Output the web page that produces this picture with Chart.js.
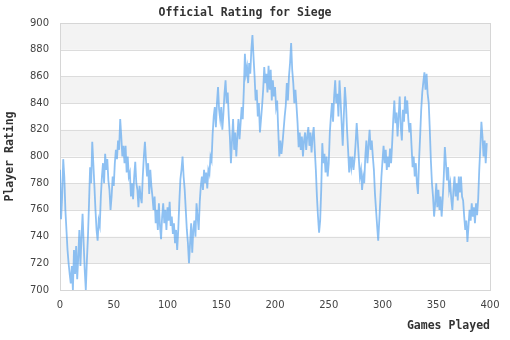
<!DOCTYPE html>
<html>
<head>
<meta charset="utf-8">
<script src="https://cdn.jsdelivr.net/npm/chart.js@4"></script>
<style>
  html, body { margin: 0; padding: 0; background: #fff; }
  #wrap { width: 510px; height: 340px; }
</style>
</head>
<body>
<div id="wrap"><canvas id="chart" width="510" height="340"></canvas></div>
<script>
// Rating after each game played (game 0 = first rated game)
const ratings = [
  790, 753, 770, 798, 785, 760, 745, 730, 720, 712,
  705, 718, 700, 730, 712, 733, 708, 725, 745, 718,
  740, 757, 735, 715, 700, 722, 740, 765, 792, 780,
  811, 795, 778, 760, 745, 737, 752, 748, 770, 785,
  795, 780, 802, 790, 798, 782, 775, 760, 770, 785,
  778, 795, 805, 798, 812, 805, 828, 815, 800, 808,
  795, 808, 788, 800, 785, 788, 770, 780, 768, 785,
  796, 780, 775, 762, 778, 770, 765, 785, 800, 811,
  797, 785, 795, 772, 790, 778, 770, 760, 770, 750,
  760, 745, 765, 748, 738, 755, 765, 750, 760, 745,
  762, 752, 766, 748, 755, 742, 750, 735, 745, 730,
  745, 766, 783, 790, 800, 785, 775, 760, 745, 735,
  720, 735, 750, 728, 745, 752, 740, 765, 755, 745,
  766, 778, 785, 775, 790, 780, 788, 776, 790, 787,
  800, 797, 817, 830, 837, 822, 840, 852, 835, 828,
  837, 820, 832, 847, 857, 840, 848, 830, 815, 795,
  812, 828, 805, 818, 800, 815, 828, 813, 825, 837,
  828, 850, 877, 862, 867, 855, 870, 862, 880, 891,
  875, 860, 842, 850, 830, 840, 818, 828, 838, 850,
  867, 855, 862, 848, 868, 850, 865, 842, 857, 845,
  852, 837, 842, 820, 800, 812, 802, 810, 820, 830,
  838, 855, 842, 860, 870, 885, 865, 855, 840, 850,
  838, 825, 807, 818, 805, 815, 800, 812, 818, 805,
  815, 822, 808, 818, 803, 815, 822, 805, 790, 770,
  755, 743, 752, 775, 810, 795, 802, 788, 800, 785,
  795, 818, 830, 840, 826, 845, 857, 840, 847, 830,
  857, 842, 825, 808, 830, 852, 840, 820, 805, 788,
  800, 792, 800, 790, 798, 810, 825, 812, 798, 785,
  790, 775, 785, 780, 800, 812, 795, 808, 820, 805,
  812, 800, 790, 772, 760, 748, 737, 752, 768, 785,
  797, 808, 795, 805, 790, 800, 792, 806, 795, 810,
  828, 842, 825, 833, 815, 830, 845, 822, 812, 835,
  826, 845, 832, 842, 828, 818, 825, 808, 792, 800,
  785, 795, 780, 772, 797, 815, 835, 848, 856, 863,
  850, 862, 847, 840, 820, 797, 780, 770, 755, 765,
  780, 762, 775, 760, 770, 755, 768, 785, 807, 795,
  782, 792, 775, 780, 768, 760, 775, 785, 770, 780,
  767, 785, 773, 785, 770, 767, 755, 745, 752, 736,
  748, 760, 752, 765, 755, 762, 750, 765, 756, 768,
  790, 807, 826, 815, 800, 812, 795, 810
];
const games = ratings.map((_, i) => i);

const xTicks = [0, 50, 100, 150, 200, 250, 300, 350, 400];
const yTicks = [700, 720, 740, 760, 780, 800, 820, 840, 860, 880, 900];

const monoBold = { family: '"DejaVu Sans Mono", monospace', size: 11.5, weight: 'bold' };
const tickFont = { family: '"DejaVu Sans", sans-serif', size: 10 };

// Alternating horizontal bands and a frame around the plot area
const bandsAndFrame = {
  id: 'bandsAndFrame',
  beforeDatasetsDraw(chart) {
    const { ctx, chartArea: a, scales: { y } } = chart;
    ctx.save();
    ctx.fillStyle = '#f3f3f3';
    for (let i = yTicks.length - 1; i > 0; i -= 2) {
      const top = y.getPixelForValue(yTicks[i]);
      const bot = y.getPixelForValue(yTicks[i - 1]);
      ctx.fillRect(a.left, top, a.right - a.left, bot - top);
    }
    ctx.strokeStyle = '#dcdcdc';
    ctx.lineWidth = 1;
    for (const v of yTicks) {
      const py = Math.round(y.getPixelForValue(v)) + 0.5;
      ctx.beginPath();
      ctx.moveTo(a.left, py);
      ctx.lineTo(a.right, py);
      ctx.stroke();
    }
    ctx.strokeStyle = '#d6d6d6';
    ctx.strokeRect(Math.round(a.left) + 0.5, Math.round(a.top) + 0.5,
                   Math.round(a.right - a.left), Math.round(a.bottom - a.top));
    ctx.restore();
  }
};

new Chart(document.getElementById('chart'), {
  type: 'line',
  data: {
    labels: games,
    datasets: [{
      data: games.map((g, i) => ({ x: g, y: ratings[i] })),
      borderColor: 'rgba(94,166,238,0.7)',
      borderWidth: 1.8,
      pointRadius: 0,
      tension: 0,
      fill: false
    }]
  },
  options: {
    responsive: false,
    animation: false,
    devicePixelRatio: 1,
    layout: { padding: { left: 0, right: 20, top: 0, bottom: 0 } },
    plugins: {
      legend: { display: false },
      tooltip: { enabled: false },
      title: {
        display: true,
        text: 'Official Rating for Siege',
        color: '#333',
        font: { ...monoBold, lineHeight: 1.2 },
        padding: { top: 6, bottom: 3.2 }
      }
    },
    scales: {
      x: {
        type: 'linear',
        min: 0,
        max: 400,
        afterFit(s) { s.height = 50; },
        afterBuildTicks(s) { s.ticks = xTicks.map(v => ({ value: v })); },
        grid: { display: false, drawTicks: false },
        border: { display: false },
        ticks: { color: '#444', font: tickFont, padding: 9, maxRotation: 0 },
        title: {
          display: true,
          text: 'Games Played',
          align: 'end',
          color: '#333',
          font: { ...monoBold, lineHeight: 1.2 },
          padding: { top: 0, bottom: 7 }
        }
      },
      y: {
        min: 700,
        max: 900,
        afterFit(s) { s.width = 60; },
        afterBuildTicks(s) { s.ticks = yTicks.map(v => ({ value: v })); },
        grid: { display: false, drawTicks: false },
        border: { display: false },
        ticks: { color: '#444', font: tickFont, padding: 11 },
        title: {
          display: true,
          text: 'Player Rating',
          color: '#333',
          font: { ...monoBold, lineHeight: 1.2 },
          padding: { top: 3, bottom: 0 }
        }
      }
    }
  },
  plugins: [bandsAndFrame]
});
</script>
</body>
</html>
